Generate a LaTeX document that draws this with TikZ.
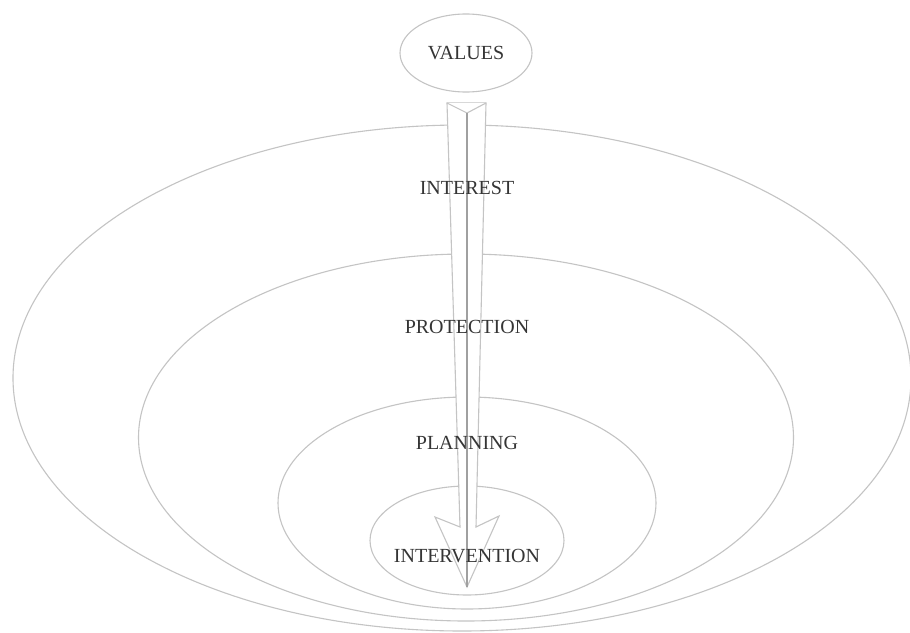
\documentclass[tikz,border=0pt]{standalone}
\usepackage{fontspec}
\setmainfont{Liberation Serif}
\usetikzlibrary{shapes.geometric}
\definecolor{ringgray}{HTML}{C4C4C4}
\definecolor{axisgray}{HTML}{A0A0A0}
\definecolor{textgray}{HTML}{353535}
\tikzset{
  ring/.style={ellipse, draw=ringgray, line width=1.1pt, inner sep=0pt},
  lbl/.style={text=textgray, font=\fontsize{20}{22}\selectfont, inner sep=0pt},
  shaft/.style={draw=ringgray, line width=1.1pt, fill=white, line join=miter},
  axis/.style={draw=axisgray, line width=1.4pt}
}
\begin{document}
\begin{tikzpicture}[x=1pt,y=-1pt]
\useasboundingbox (0,0) rectangle (910,632);
\fill[white] (0,0) rectangle (910,632);
% rings
\node[ring, minimum width=898pt, minimum height=506pt] (outer) at (462,378) {};
\node[ring, minimum width=655pt, minimum height=367pt] (second) at (466,437.5) {};
\node[ring, minimum width=378pt, minimum height=212pt] (third) at (467,503) {};
\node[ring, minimum width=194pt, minimum height=109pt] (inner) at (467,540.5) {};
\node[ring, minimum width=132pt, minimum height=78pt] (values) at (466,53) {};
% arrow
\coordinate (tl) at (447,103);
\coordinate (tr) at (486,103);
\coordinate (tc) at (467,113);
\coordinate (nr) at (476,527);
\coordinate (wr) at (499,516);
\coordinate (tip) at (467,587);
\coordinate (wl) at (435,517);
\coordinate (nl) at (460,527);
\draw[shaft] (tl) -- (tr) -- (nr) -- (wr) -- (tip) -- (wl) -- (nl) -- cycle;
\draw[shaft] (tl) -- (tc) -- (tr);
\draw[axis] (tc) -- (tip);
% labels
\node[lbl] (tvalues) at (values.center) {VALUES};
\node[lbl] (tinterest) at (467,188) {INTEREST};
\node[lbl] (tprotection) at (467,327) {PROTECTION};
\node[lbl] (tplanning) at (467,443) {PLANNING};
\node[lbl] (tintervention) at (467,556) {INTERVENTION};
\end{tikzpicture}
\end{document}
